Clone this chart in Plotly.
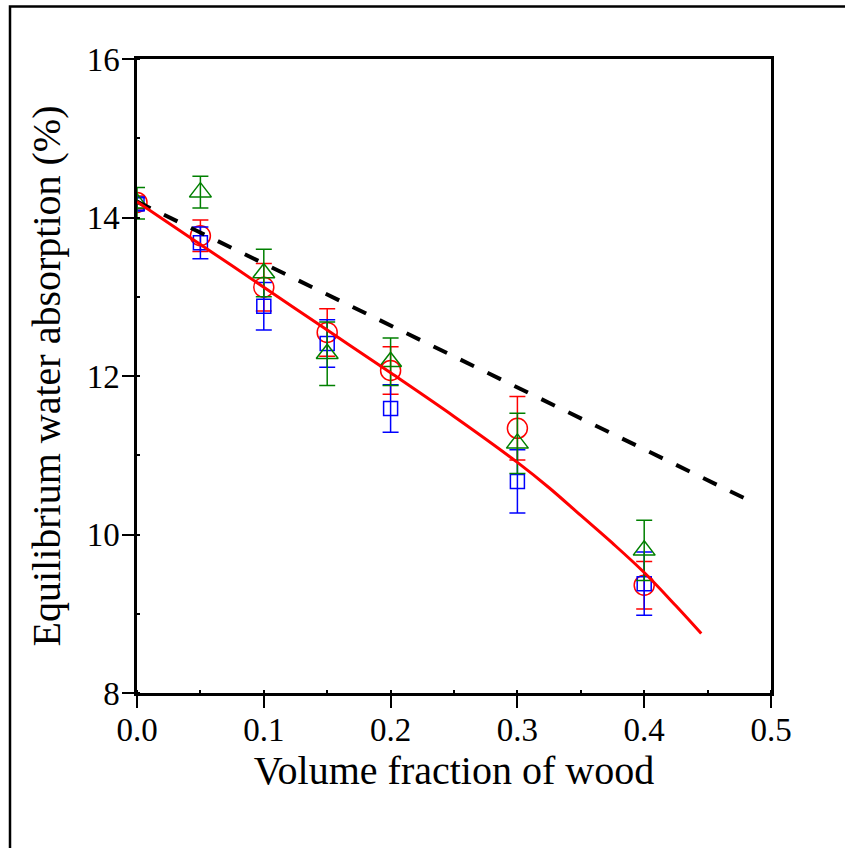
import plotly.graph_objects as go

# volume fraction of wood
frac = [0.0, 0.05, 0.1, 0.15, 0.2, 0.3, 0.4]

# three measured series (equilibrium water absorption, %)
red_y = [14.19, 13.77, 13.12, 12.55, 12.07, 11.34, 9.36]
red_err = [0.08, 0.2, 0.3, 0.3, 0.3, 0.4, 0.3]
blue_y = [14.17, 13.68, 12.88, 12.41, 11.59, 10.67, 9.38]
blue_err = [0.08, 0.2, 0.3, 0.3, 0.3, 0.4, 0.4]
green_y = [14.18, 14.32, 13.3, 12.28, 12.18, 11.15, 9.8]
green_err = [0.2, 0.2, 0.3, 0.4, 0.3, 0.38, 0.38]

# model curves
rom_x = [0.0, 0.48]
rom_y = [14.2, 10.45]
fit_x = [0.0, 0.05, 0.1, 0.15, 0.2, 0.25, 0.3, 0.325, 0.35, 0.375, 0.4, 0.425, 0.445]
fit_y = [14.2, 13.66, 13.12, 12.58, 12.04, 11.49, 10.91, 10.59, 10.24, 9.89, 9.52, 9.10, 8.75]

FONT = "Liberation Serif"

fig = go.Figure()

for ys, err, color, symbol, size in [
    (red_y, red_err, "#ff0000", "circle-open", 20),
    (blue_y, blue_err, "#0000ff", "square-open", 14),
    (green_y, green_err, "#008000", "triangle-up-open", 19),
]:
    fig.add_trace(go.Scatter(
        x=frac, y=ys, mode="markers",
        marker=dict(symbol=symbol, size=size, color=color, line=dict(color=color, width=1.5)),
        error_y=dict(type="data", array=err, color=color, thickness=1.5, width=8),
        showlegend=False,
    ))

fig.add_trace(go.Scatter(x=rom_x, y=rom_y, mode="lines",
                         line=dict(color="black", width=4, dash="15px,15px"), showlegend=False))
fig.add_trace(go.Scatter(x=fit_x, y=fit_y, mode="lines", line_shape="spline",
                         line=dict(color="#ff0000", width=3), showlegend=False))

axis_common = dict(
    showgrid=False, zeroline=False, showline=True, linecolor="black", linewidth=2.5,
    mirror=True, ticks="outside", ticklen=12, tickwidth=2, tickcolor="black",
    tickfont=dict(family=FONT, size=33, color="black"),
)

fig.update_xaxes(
    range=[0, 0.5], tickvals=[0, 0.1, 0.2, 0.3, 0.4, 0.5], tickformat=".1f",
    minor=dict(ticks="inside", ticklen=3, tickwidth=2, tickcolor="black", dtick=0.05, tick0=0),
    title=dict(text="Volume fraction of wood", font=dict(family=FONT, size=40, color="black"), standoff=4),
    ticklabelstandoff=-6,
    **axis_common,
)
fig.update_yaxes(
    range=[8, 16], tickvals=[8, 10, 12, 14, 16],
    minor=dict(ticks="inside", ticklen=3, tickwidth=2, tickcolor="black", dtick=1, tick0=8),
    title=dict(text="Equilibrium water absorption (%)", font=dict(family=FONT, size=40, color="black"), standoff=14),
    ticklabelstandoff=-4,
    **axis_common,
)

# outer frame: only its top and left edges fall inside the picture
fl = (10 - 137) / 634
ft = (693 - 6.5) / 634
fr = (852 - 137) / 634
fb = (693 - 856) / 634
fig.add_shape(type="path", xref="paper", yref="paper",
              path=f"M {fl},{fb} L {fl},{ft} L {fr},{ft}",
              line=dict(color="black", width=2.5), layer="above")

fig.update_layout(
    width=845, height=848,
    margin=dict(l=137, r=74, t=59, b=155),
    plot_bgcolor="white", paper_bgcolor="white",
)

fig.write_html(
    "out.html", config={"displayModeBar": False},
    post_script="document.body.style.margin='0';"
                "document.body.style.overflow='hidden';"
                "document.documentElement.style.overflow='hidden';",
)
